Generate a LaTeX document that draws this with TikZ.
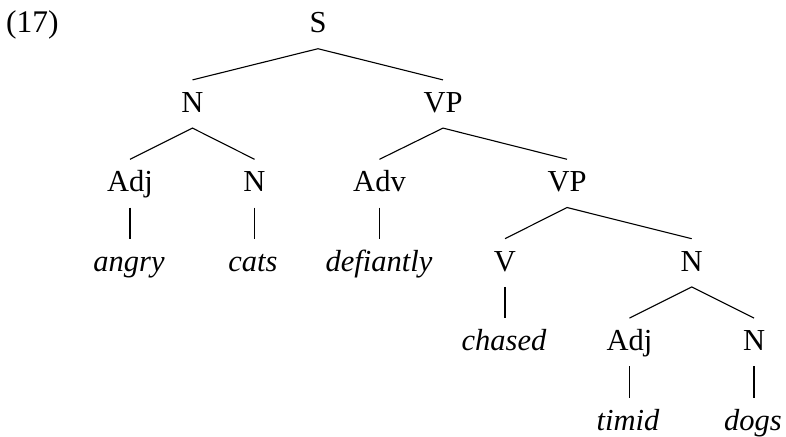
\documentclass[tikz,border=0pt]{standalone}
\usepackage{fontspec}
\setmainfont{Liberation Serif}
\begin{document}
\begin{tikzpicture}[x=1pt,y=-1pt,
  lbl/.style={font=\fontsize{30.5}{36}\selectfont, inner sep=0pt, outer sep=0pt,
    text height=32.5pt, text depth=15.7pt, anchor=base},
  word/.style={lbl, font=\fontsize{30.5}{36}\selectfont\itshape},
  edge/.style={line width=1.1pt}]
\useasboundingbox (0,0) rectangle (786,436);
\node[font=\fontsize{31.5}{36}\selectfont, inner sep=0pt, anchor=base west] (num) at (6,33) {(17)};
% row baselines
\def\ra{33}\def\rb{112.4}\def\rc{191.8}\def\rd{271.2}\def\re{350.6}\def\rf{430}
\node[lbl] (S) at (318,\ra) {S};
\node[lbl] (N1) at (192.5,\rb) {N};
\node[lbl] (VP1) at (443,\rb) {VP};
\node[lbl] (Adj1) at (130,\rc) {Adj};
\node[lbl] (N2) at (254.5,\rc) {N};
\node[lbl] (Adv) at (379.5,\rc) {Adv};
\node[lbl] (VP2) at (567,\rc) {VP};
\node[word] (angry) at (129,\rd) {angry};
\node[word] (cats) at (253,\rd) {cats};
\node[word] (defiantly) at (379,\rd) {defiantly};
\node[lbl] (V) at (505,\rd) {V};
\node[lbl] (N3) at (691.7,\rd) {N};
\node[word] (chased) at (504,\re) {chased};
\node[lbl] (Adj2) at (629.5,\re) {Adj};
\node[lbl] (N4) at (754,\re) {N};
\node[word] (timid) at (628,\rf) {timid};
\node[word] (dogs) at (753,\rf) {dogs};
\draw[edge] (N1.north) -- (S.south) -- (VP1.north);
\draw[edge] (Adj1.north) -- (N1.south) -- (N2.north);
\draw[edge] (Adv.north) -- (VP1.south) -- (VP2.north);
\draw[edge] (V.north) -- (VP2.south) -- (N3.north);
\draw[edge] (Adj2.north) -- (N3.south) -- (N4.north);
\draw[edge] (Adj1.south) -- (Adj1.south |- angry.north);
\draw[edge] (N2.south) -- (N2.south |- cats.north);
\draw[edge] (Adv.south) -- (Adv.south |- defiantly.north);
\draw[edge] (V.south) -- (V.south |- chased.north);
\draw[edge] (Adj2.south) -- (Adj2.south |- timid.north);
\draw[edge] (N4.south) -- (N4.south |- dogs.north);
\end{tikzpicture}
\end{document}
